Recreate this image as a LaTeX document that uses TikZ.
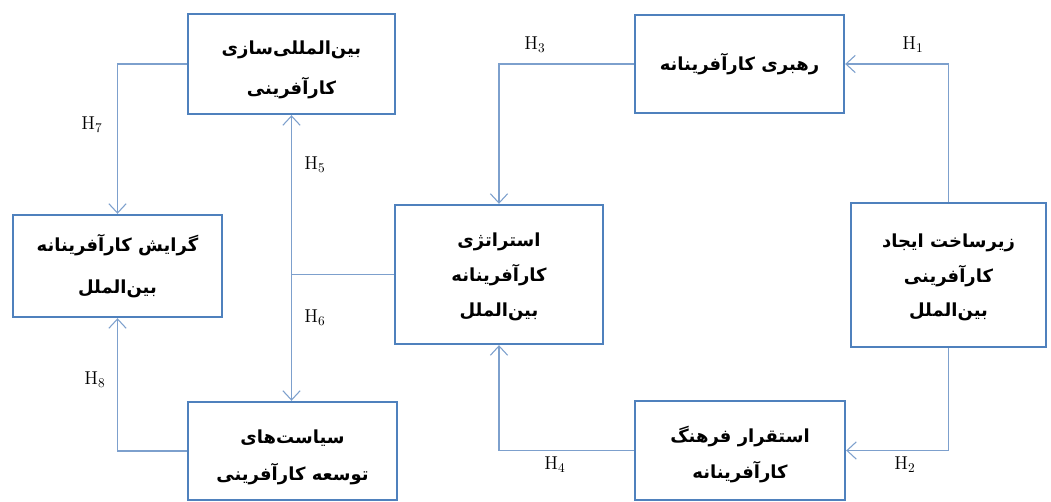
\documentclass[tikz,border=0pt]{standalone}
\usepackage{fontspec}
\TeXXeTstate=1
\newfontfamily\arabicfont[Script=Arabic]{DejaVu Sans}
\usetikzlibrary{arrows.meta}
\definecolor{boxblue}{RGB}{79,129,189}
\definecolor{linkblue}{RGB}{125,160,205}
\newcommand{\fa}[1]{\beginR #1\endR}
\newcommand{\fl}[1]{\rule{0pt}{#1}}
\begin{document}
\begin{tikzpicture}[x=0.75pt,y=-0.75pt,
  box/.style={draw=boxblue, line width=1.8pt, inner sep=0pt, align=center,
    font=\arabicfont\bfseries\fontsize{13.5}{#1}\selectfont},
  box/.default=28pt,
  conn/.style={draw=linkblue, line width=0.8pt},
  arr/.style={-{Straight Barb[length=7pt,width=13pt]}},
  lab/.style={font=\fontsize{14}{16}\selectfont, inner sep=0pt}]
\useasboundingbox (0,0) rectangle (1051,502);
% boxes
\node[box=30pt, minimum width=155.25pt, minimum height=75pt] (A) at (291.5,64) {\fl{19pt}\fa{بین‌المللی‌سازی}\\\fa{کارآفرینی}};
\node[box, minimum width=156.75pt, minimum height=73.5pt] (B) at (739.5,64) {\fa{رهبری کارآفرینانه}};
\node[box=32pt, minimum width=156.75pt, minimum height=76.5pt] (C) at (117.5,266) {\fa{گرایش کارآفرینانه}\\\fa{بین‌الملل}};
\node[box=26pt, minimum width=156pt, minimum height=104.25pt] (D) at (499,274.5) {\fl{14pt}\fa{استراتژی}\\\fa{کارآفرینانه}\\\fa{بین‌الملل}};
\node[box=26pt, minimum width=146.25pt, minimum height=108pt] (E) at (948.5,275) {\fl{14pt}\fa{زیرساخت ایجاد}\\\fa{کارآفرینی}\\\fa{بین‌الملل}};
\node[box=28pt, minimum width=156.75pt, minimum height=73.5pt] (F) at (292.5,451) {\fl{20pt}\fa{سیاست‌های}\\\fa{توسعه کارآفرینی}};
\node[box=27pt, minimum width=157.5pt, minimum height=74.25pt] (G) at (740,450.5) {\fl{19pt}\fa{استقرار فرهنگ}\\\fa{کارآفرینانه}};
% connectors
\draw[conn,arr] (E.north) |- (B.east);
\draw[conn,arr] (E.south) |- (G.east);
\draw[conn,arr] (B.west) -| (D.north);
\draw[conn,arr] (G.west) -| (D.south);
\draw[conn,{Straight Barb[length=7pt,width=13pt]}-{Straight Barb[length=7pt,width=13pt]}] (A.south) -- (A.south |- F.north);
\draw[conn] (D.west) -- (D.west -| A.south);
\draw[conn,arr] (A.west) -| (C.north);
\draw[conn,arr] (F.west) -| (C.south);
% labels
\node[lab] (h1) at (913,45) {$\mathrm{H}_1$};
\node[lab] (h2) at (905,465) {$\mathrm{H}_2$};
\node[lab] (h3) at (535,45) {$\mathrm{H}_3$};
\node[lab] (h4) at (555,465) {$\mathrm{H}_4$};
\node[lab] (h5) at (315,165) {$\mathrm{H}_5$};
\node[lab] (h6) at (315,318) {$\mathrm{H}_6$};
\node[lab] (h7) at (92,125) {$\mathrm{H}_7$};
\node[lab] (h8) at (95,380) {$\mathrm{H}_8$};
\end{tikzpicture}
\end{document}
